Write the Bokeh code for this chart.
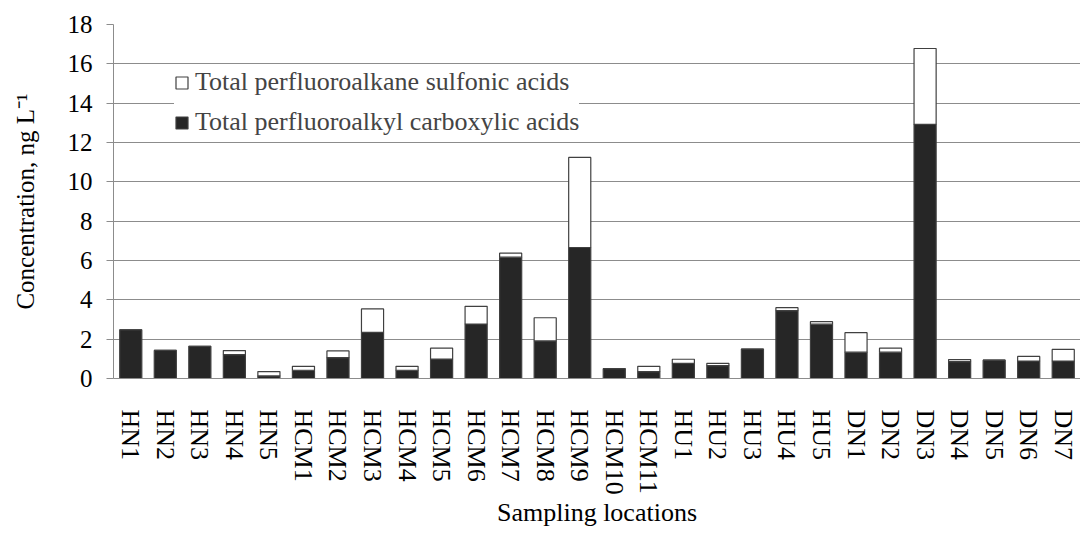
from bokeh.plotting import figure
from bokeh.models import FactorRange, Legend, LegendItem, FixedTicker
from bokeh.embed import file_html
from bokeh.resources import INLINE

# Sampling sites and summed PFAS concentrations (ng/L)
sites = ["HN1", "HN2", "HN3", "HN4", "HN5",
         "HCM1", "HCM2", "HCM3", "HCM4", "HCM5", "HCM6", "HCM7", "HCM8", "HCM9", "HCM10", "HCM11",
         "HU1", "HU2", "HU3", "HU4", "HU5",
         "DN1", "DN2", "DN3", "DN4", "DN5", "DN6", "DN7"]
pfca = [2.48, 1.43, 1.64, 1.21, 0.13,
        0.42, 1.06, 2.35, 0.42, 0.99, 2.77, 6.17, 1.91, 6.66, 0.50, 0.35,
        0.77, 0.65, 1.50, 3.45, 2.76,
        1.34, 1.34, 12.92, 0.86, 0.93, 0.89, 0.89]
pfsa = [0.00, 0.00, 0.00, 0.21, 0.22,
        0.20, 0.34, 1.19, 0.20, 0.55, 0.90, 0.20, 1.18, 4.58, 0.00, 0.27,
        0.21, 0.12, 0.00, 0.15, 0.13,
        0.99, 0.20, 3.86, 0.10, 0.00, 0.23, 0.59]
y_ticks = [0, 2, 4, 6, 8, 10, 12, 14, 16, 18]

FONT = "Liberation Serif"
DARK = "#262626"
EDGE = "#404040"
GRID = "#8c8c8c"

source = {"site": sites, "pfca": pfca, "pfsa": pfsa}

p = figure(x_range=FactorRange(*sites), y_range=(0, 18),
           width=1080, height=540, output_backend="svg", toolbar_location=None,
           min_border_left=113, min_border_right=0, min_border_top=24, min_border_bottom=162)
p.outline_line_color = None

bars = p.vbar_stack(["pfca", "pfsa"], x="site", width=0.64, source=source,
                    fill_color=[DARK, "white"], line_color=EDGE, line_width=1.2)

# axes
p.yaxis.ticker = FixedTicker(ticks=y_ticks)
p.yaxis.axis_line_color = GRID
p.yaxis.major_tick_line_color = GRID
p.yaxis.major_tick_out = 7
p.yaxis.major_tick_in = 0
p.yaxis.minor_tick_line_color = None
p.yaxis.major_label_text_font = FONT
p.yaxis.major_label_text_font_size = "25px"
p.yaxis.major_label_text_color = "black"
p.yaxis.major_label_standoff = 14
p.yaxis.axis_label = "Concentration, ng L\u207b\u00b9"
p.yaxis.axis_label_text_font = FONT
p.yaxis.axis_label_text_font_size = "25px"
p.yaxis.axis_label_text_font_style = "normal"
p.yaxis.axis_label_text_color = "black"
p.yaxis.axis_label_standoff = 26

p.xaxis.axis_line_color = GRID
p.xaxis.major_tick_line_color = None
p.xaxis.minor_tick_line_color = None
p.xaxis.major_label_orientation = "vertical"
p.xaxis.major_label_text_font = FONT
p.xaxis.major_label_text_font_size = "26px"
p.xaxis.major_label_text_color = "black"
p.xaxis.major_label_standoff = 25
p.xaxis.axis_label = "Sampling locations"
p.xaxis.axis_label_text_font = FONT
p.xaxis.axis_label_text_font_size = "26px"
p.xaxis.axis_label_text_font_style = "normal"
p.xaxis.axis_label_text_color = "black"
p.xaxis.axis_label_standoff = 0

p.xgrid.grid_line_color = None
p.ygrid.grid_line_color = GRID
p.ygrid.grid_line_width = 1

legend = Legend(items=[LegendItem(label="Total perfluoroalkane sulfonic acids", renderers=[bars[1]]),
                       LegendItem(label="Total perfluoroalkyl carboxylic acids", renderers=[bars[0]])],
                location=(61, 239), orientation="vertical",
                background_fill_color="white", background_fill_alpha=1.0,
                border_line_color=None,
                label_text_font=FONT, label_text_font_size="26px",
                glyph_width=15, glyph_height=15, label_standoff=6,
                label_height=34, spacing=6, padding=2, margin=0)
p.add_layout(legend, "center")

open("out.html", "w").write(file_html(p, INLINE))
